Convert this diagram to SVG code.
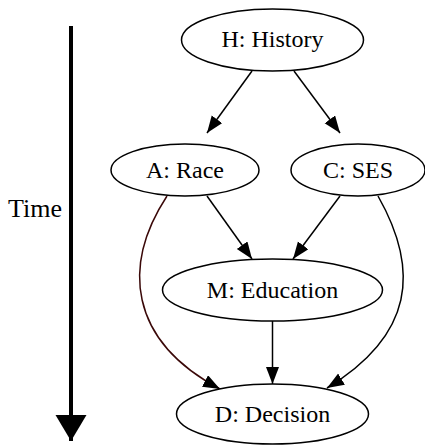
<svg xmlns="http://www.w3.org/2000/svg" width="425" height="446" viewBox="0 0 425 446">
<style>
text{font-size:24px;fill:#000;text-anchor:middle}
.node ellipse{fill:#fff;stroke:#000;stroke-width:1.5}
.edge{fill:none;stroke:#000;stroke-width:1.5}
</style>
<defs>
<marker id="ah" markerUnits="userSpaceOnUse" markerWidth="18" markerHeight="14" refX="17" refY="6.5" orient="auto">
<path d="M0,0 L17,6.5 L0,13 z" fill="#000"/>
</marker>
<marker id="big" markerUnits="userSpaceOnUse" markerWidth="32" markerHeight="32" refX="26" refY="15.5" orient="auto">
<path d="M0,0 L26,15.5 L0,31 z" fill="#000"/>
</marker>
</defs>
<g id="time">
<line x1="71" y1="26" x2="71" y2="441" stroke="#000" stroke-width="4" marker-end="url(#big)"/>
<text x="35" y="217" font-family="'Liberation Serif'" style="font-size:26px">Time</text>
</g>
<g id="connectors">
<path class="edge" d="M252,71 L207,133" marker-end="url(#ah)"/>
<path class="edge" d="M294,71 L340,133" marker-end="url(#ah)"/>
<path class="edge" d="M207,196 L252,259" marker-end="url(#ah)"/>
<path class="edge" d="M340,196 L293,259" marker-end="url(#ah)"/>
<path class="edge" d="M272.5,321 L272.5,384" marker-end="url(#ah)"/>
<path class="edge" style="stroke:#3a0808" d="M167,196 C122,265 128,340 220,389" marker-end="url(#ah)"/>
<path class="edge" d="M378,196 C420,270 414,335 327,388" marker-end="url(#ah)"/>
</g>
<g id="H" class="node"><ellipse cx="272.5" cy="40" rx="91" ry="31"/><text x="272.5" y="47" font-family="'Liberation Serif'">H: History</text></g>
<g id="A" class="node"><ellipse cx="185" cy="170" rx="74" ry="26"/><text x="185" y="178" font-family="'Liberation Serif'">A: Race</text></g>
<g id="C" class="node"><ellipse cx="358" cy="170" rx="67" ry="26"/><text x="358" y="178" font-family="'Liberation Serif'">C: SES</text></g>
<g id="M" class="node"><ellipse cx="272.5" cy="290" rx="110" ry="31"/><text x="272.5" y="298" font-family="'Liberation Serif'">M: Education</text></g>
<g id="D" class="node"><ellipse cx="272.5" cy="414" rx="96" ry="30"/><text x="272.5" y="422" font-family="'Liberation Serif'">D: Decision</text></g>
</svg>
